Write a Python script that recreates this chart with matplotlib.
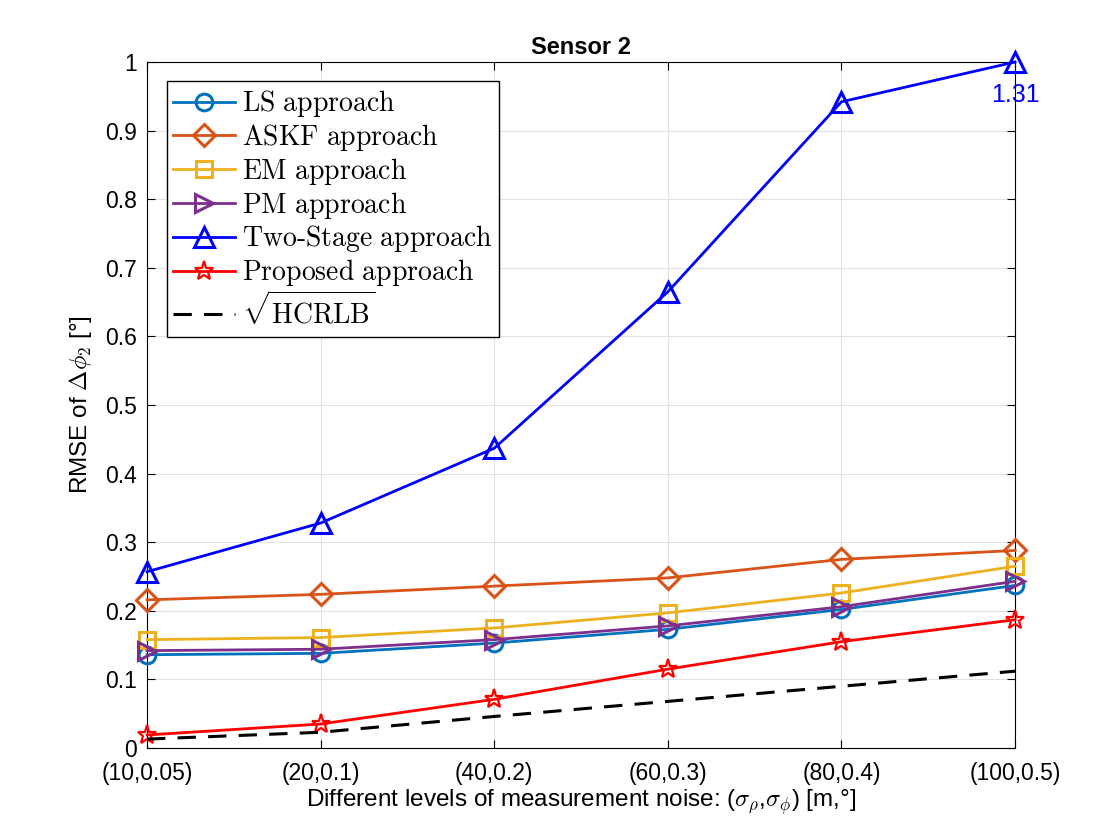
import matplotlib
matplotlib.use('Agg')
import matplotlib.pyplot as plt
import numpy as np

plt.rcParams['font.family'] = ['Liberation Sans', 'DejaVu Sans']
plt.rcParams['mathtext.fontset'] = 'cm'

# noise levels (sigma_rho, sigma_phi)
livelli = ['(10,0.05)', '(20,0.1)', '(40,0.2)', '(60,0.3)', '(80,0.4)', '(100,0.5)']

# RMSE values
ls = [0.136, 0.138, 0.153, 0.173, 0.202, 0.237]
askf = [0.216, 0.224, 0.236, 0.248, 0.275, 0.288]
em = [0.158, 0.161, 0.175, 0.197, 0.226, 0.265]
pm = [0.142, 0.144, 0.158, 0.178, 0.206, 0.243]
two_stage = [0.257, 0.328, 0.437, 0.665, 0.942, 1.31]
proposto = [0.019, 0.035, 0.071, 0.115, 0.155, 0.187]
hcrlb = [0.013, 0.023, 0.046, 0.068, 0.090, 0.112]

x = np.arange(len(livelli))
y_max = 1.0

fig = plt.figure(figsize=(11.2, 8.4), dpi=100)
ax = fig.add_axes([0.1313, 0.1095, 0.775, 0.8167])

lw = 2
ax.plot(x, ls, marker='o', color=(0, 0.447, 0.741), lw=lw, ms=12, mew=2.2,
        mfc='none', label=r'$\mathrm{LS\ approach}$', clip_on=False, zorder=3)
ax.plot(x, askf, marker='D', color=(0.85, 0.325, 0.098), lw=lw, ms=11, mew=2.2,
        mfc='none', label=r'$\mathrm{ASKF\ approach}$', clip_on=False, zorder=3)
ax.plot(x, em, marker='s', color=(0.929, 0.694, 0.125), lw=lw, ms=11, mew=2.2,
        mfc='none', label=r'$\mathrm{EM\ approach}$', clip_on=False, zorder=3)
ax.plot(x, pm, marker='>', color=(0.494, 0.184, 0.556), lw=lw, ms=13, mew=2.2,
        mfc='none', label=r'$\mathrm{PM\ approach}$', clip_on=False, zorder=3)
ax.plot(x, np.minimum(two_stage, y_max), marker='^', color='b', lw=lw, ms=14, mew=2.2,
        mfc='none', label=r'$\mathrm{Two\text{-}Stage\ approach}$', clip_on=False, zorder=3)
ax.plot(x, proposto, marker='*', color='r', lw=lw, ms=14, mew=1.6,
        mfc='none', label=r'$\mathrm{Proposed\ approach}$', clip_on=False, zorder=3)
ax.plot(x, hcrlb, '--', color='k', lw=2.2, dashes=(6, 4),
        label=r'$\sqrt{\mathrm{HCRLB}}$', zorder=3)

# valore fuori scala
ax.text(x[-1], y_max - 0.03, f'{two_stage[-1]:.2f}', color='b', fontsize=18,
        ha='center', va='top')

ax.set_xlim(x[0], x[-1])
ax.set_ylim(0, y_max)
ax.set_xticks(x)
ax.set_xticklabels(livelli)
ax.set_yticks(np.arange(0, 1.01, 0.1))
ax.set_yticklabels(['0', '0.1', '0.2', '0.3', '0.4', '0.5', '0.6', '0.7', '0.8', '0.9', '1'])
ax.tick_params(direction='in', labelsize=16.5, length=6, top=True, right=True, pad=7)
ax.tick_params(axis='x', pad=10)
ax.grid(True, color='#e2e2e2', lw=0.8)
ax.set_axisbelow(True)

ax.set_title('Sensor 2', fontsize=17, fontweight='bold', pad=6)
ax.set_xlabel(r'Different levels of measurement noise: ($\sigma_\rho$,$\sigma_\phi$) [m,°]',
              fontsize=17.5, labelpad=2)
ax.set_ylabel(r'RMSE of $\Delta\phi_2$ [°]', fontsize=17.5, labelpad=8)

leg = ax.legend(loc='upper left', fontsize=20, frameon=True, fancybox=False,
                edgecolor='k', framealpha=1, handlelength=2.2, borderaxespad=0.7,
                labelspacing=0.1, handletextpad=0.25, borderpad=0.25)
leg.get_frame().set_linewidth(1)

plt.savefig('out.png', dpi=100)
